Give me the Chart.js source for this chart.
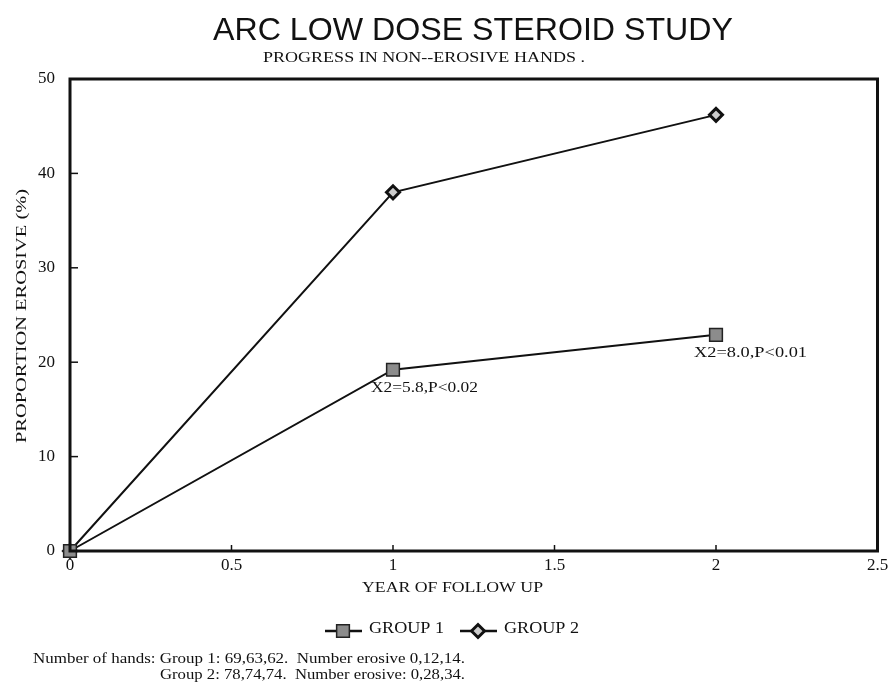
<!DOCTYPE html>
<html>
<head>
<meta charset="utf-8">
<script src="https://cdn.jsdelivr.net/npm/chart.js@4/dist/chart.umd.min.js"></script>
<style>
	html, body { margin: 0; padding: 0; background: #fff; }
	#wrap { width: 888px; height: 682px; }
</style>
</head>
<body>
<div id="wrap"><canvas id="chart" width="888" height="682"></canvas></div>
<script>
// values
const years = [0, 1, 2];
const group1 = [0, 19.2, 22.9];
const group2 = [0, 38.0, 46.2];
const group1Notes = ['', 'X2=5.8,P<0.02', 'X2=8.0,P<0.01'];
const seriesNames = ['GROUP 1', 'GROUP 2'];
const footLines = [
	'Number of hands: Group 1: 69,63,62.  Number erosive 0,12,14.',
	'Group 2: 78,74,74.  Number erosive: 0,28,34.'
];

const ink = '#111',
	serif = '"Liberation Serif", "DejaVu Serif", serif',
	sans = '"Liberation Sans", Arial, sans-serif';

function toPoints(ys) {
	return years.map((x, i) => ({x: x, y: ys[i]}));
}

// draw text stretched to a given width, left edge at x
function fitText(ctx, text, x, y, width) {
	const w = ctx.measureText(text).width;
	ctx.save();
	ctx.translate(x, y);
	ctx.scale(width / w, 1);
	ctx.textAlign = 'left';
	ctx.fillText(text, 0, 0);
	ctx.restore();
}

const extras = {
	id: 'extras',
	afterDraw(chart) {
		const ctx = chart.ctx,
			a = chart.chartArea,
			xs = chart.scales.x,
			ys = chart.scales.y;

		ctx.save();
		ctx.fillStyle = ink;
		ctx.strokeStyle = ink;

		// frame
		ctx.lineWidth = 3;
		ctx.strokeRect(a.left, a.top, a.right - a.left, a.bottom - a.top);

		// inward ticks
		ctx.lineWidth = 1.5;
		ys.ticks.forEach(t => {
			if (t.value <= 0 || t.value >= 50) return;
			const py = ys.getPixelForValue(t.value);
			ctx.beginPath(); ctx.moveTo(a.left, py); ctx.lineTo(a.left + 8, py); ctx.stroke();
		});
		xs.ticks.forEach(t => {
			if (t.value <= 0 || t.value >= 2.5) return;
			const px = xs.getPixelForValue(t.value);
			ctx.beginPath(); ctx.moveTo(px, a.bottom); ctx.lineTo(px, a.bottom - 6); ctx.stroke();
		});

		// titles
		ctx.textBaseline = 'middle';
		ctx.font = '32px ' + sans;
		fitText(ctx, 'ARC LOW DOSE STEROID STUDY', 213, 31, 520);
		ctx.font = '15px ' + serif;
		fitText(ctx, 'PROGRESS IN NON--EROSIVE HANDS .', 263, 58, 322);

		ctx.font = '15px ' + serif;
		fitText(ctx, 'YEAR OF FOLLOW UP', 362, 588, 181);

		ctx.save();
		ctx.translate(22, 443);
		ctx.rotate(-Math.PI / 2);
		ctx.font = '15px ' + serif;
		fitText(ctx, 'PROPORTION EROSIVE (%)', 0, 0, 254);
		ctx.restore();

		// notes under group 1 points
		ctx.font = '15px ' + serif;
		const meta = chart.getDatasetMeta(0),
			noteW = [0, 107, 113];
		meta.data.forEach((pt, i) => {
			if (!group1Notes[i]) return;
			fitText(ctx, group1Notes[i], pt.x - 22, pt.y + 18, noteW[i]);
		});

		// legend
		const legY = 631,
			items = [{x: 325, ds: chart.data.datasets[0]}, {x: 460, ds: chart.data.datasets[1]}];
		items.forEach((it, i) => {
			ctx.lineWidth = 2.5;
			ctx.beginPath(); ctx.moveTo(it.x, legY); ctx.lineTo(it.x + 37, legY); ctx.stroke();
			ctx.fillStyle = it.ds.pointBackgroundColor;
			ctx.strokeStyle = it.ds.pointBorderColor;
			ctx.lineWidth = it.ds.pointBorderWidth;
			Chart.helpers.drawPoint(ctx, {
				pointStyle: it.ds.pointStyle,
				radius: it.ds.pointRadius,
				borderWidth: it.ds.pointBorderWidth,
				rotation: 0
			}, it.x + 18, legY);
			ctx.fillStyle = ink;
			ctx.strokeStyle = ink;
			ctx.font = '16px ' + serif;
			fitText(ctx, seriesNames[i], it.x + 44, legY - 2, 75);
		});

		// footnote
		ctx.font = '14px ' + serif;
		fitText(ctx, footLines[0], 33, 659, 432);
		fitText(ctx, footLines[1], 160, 675, 305);

		ctx.restore();
	}
};

new Chart(document.getElementById('chart'), {
	type: 'line',
	data: {
		datasets: [
			{
				label: seriesNames[0],
				data: toPoints(group1),
				borderColor: ink,
				borderWidth: 2,
				pointStyle: 'rect',
				pointRadius: 9,
				pointBackgroundColor: '#8c8c8c',
				pointBorderColor: '#222',
				pointBorderWidth: 1.5,
				tension: 0
			},
			{
				label: seriesNames[1],
				data: toPoints(group2),
				borderColor: ink,
				borderWidth: 2,
				pointStyle: 'rectRot',
				pointRadius: 6.5,
				pointBackgroundColor: '#ccc',
				pointBorderColor: ink,
				pointBorderWidth: 3,
				tension: 0
			}
		]
	},
	options: {
		responsive: false,
		animation: false,
		devicePixelRatio: 1,
		clip: false,
		layout: {padding: {top: 79, right: 10, left: 0, bottom: 0}},
		plugins: {
			legend: {display: false},
			tooltip: {enabled: false}
		},
		scales: {
			x: {
				type: 'linear',
				min: 0,
				max: 2.5,
				ticks: {
					stepSize: 0.5, color: ink, font: {family: serif, size: 17}, padding: 4, maxRotation: 0,
					callback: v => String(v)
				},
				grid: {display: false, drawTicks: false},
				border: {display: false},
				afterFit(s) { s.height = 131; s.paddingLeft = 0; s.paddingRight = 0; }
			},
			y: {
				min: 0,
				max: 50,
				ticks: {stepSize: 10, color: ink, font: {family: serif, size: 17}, padding: 15},
				grid: {display: false, drawTicks: false},
				border: {display: false},
				afterFit(s) { s.width = 70; s.paddingTop = 0; s.paddingBottom = 0; }
			}
		}
	},
	plugins: [extras]
});
</script>
</body>
</html>
